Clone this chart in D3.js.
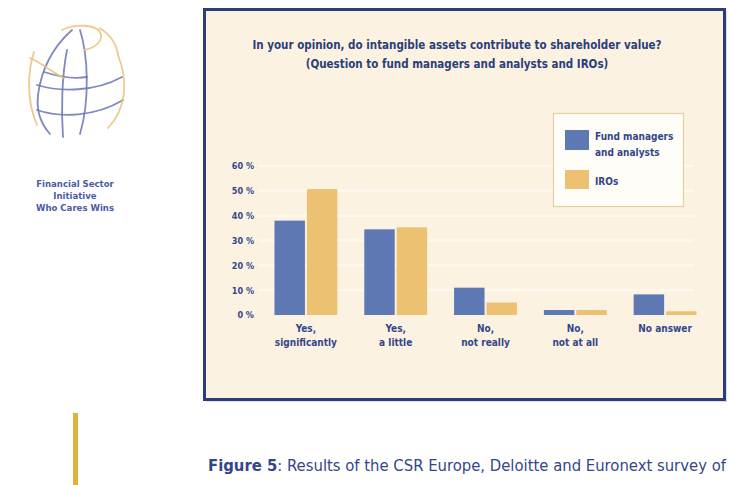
<!DOCTYPE html>
<html><head><meta charset="utf-8">
<script src="https://cdn.jsdelivr.net/npm/d3@7"></script>
<style>
html,body{margin:0;padding:0;background:#fff;}
svg{display:block;}
text{font-family:"Liberation Sans Narrow","DejaVu Sans Condensed","Arial Narrow",sans-serif;}
</style></head>
<body>
<svg id="c" width="732" height="485"></svg>
<script>
const categories = [["Yes,","significantly"],["Yes,","a little"],["No,","not really"],["No,","not at all"],["No answer"]];
const seriesNames = ["Fund managers and analysts","IROs"];
const fundManagers = [38, 34.5, 11, 2, 8.3];
const iros = [50.7, 35.3, 5, 2, 1.5];
const yTicks = [0,10,20,30,40,50,60];
const titleLines = ["In your opinion, do intangible assets contribute to shareholder value?","(Question to fund managers and analysts and IROs)"];
const logoLines = ["Financial Sector","Initiative","Who Cares Wins"];

const navy = "#2a3f78", blue = "#5d78b3", gold = "#ecc172", textBlue = "#33468a";
const svg = d3.select("#c");

// chart frame
svg.append("rect").attr("x",206).attr("y",11).attr("width",521).attr("height",391).attr("fill","#d9dde6");
svg.append("rect").attr("x",204.5).attr("y",9.5).attr("width",520).attr("height",390)
  .attr("fill","#fcf2e2").attr("stroke",navy).attr("stroke-width",3);

// title
svg.append("g").selectAll("text").data(titleLines).join("text")
  .attr("x",457).attr("y",(d,i)=>49+i*19).attr("text-anchor","middle")
  .attr("font-size",11.5).attr("font-weight","bold").attr("fill",navy).text(d=>d);

const keys = ["f","i"];
const data = categories.map((c,i)=>({c, key:c.join(" "), f:fundManagers[i], i:iros[i]}));
const x0 = d3.scaleBand().domain(data.map(d=>d.key)).range([261,710]).paddingInner(0.3).paddingOuter(0.15);
const x1 = d3.scaleBand().domain(keys).range([0,x0.bandwidth()]).paddingInner(0.06);
const y = d3.scaleLinear().domain([0,60]).range([315,166]);
const color = d3.scaleOrdinal().domain(keys).range([blue,gold]);

// gridlines
svg.append("g").selectAll("line").data(yTicks.filter(t=>t>0)).join("line")
  .attr("x1",258).attr("x2",694).attr("y1",d=>y(d)).attr("y2",d=>y(d))
  .attr("stroke","#fff8ee").attr("stroke-width",2.5);

// y axis
const yAxis = d3.axisLeft(y).tickValues(yTicks).tickFormat(d=>d+" %").tickSize(0).tickPadding(0);
const ga = svg.append("g").attr("transform","translate(254,0)").call(yAxis);
ga.select(".domain").remove();
ga.selectAll("text").attr("font-size",9).attr("font-weight","bold").attr("fill",textBlue)
  .attr("font-family",'"Liberation Sans Narrow","DejaVu Sans Condensed",sans-serif');

// bars
svg.append("g").selectAll("g").data(data).join("g")
  .attr("transform",d=>`translate(${x0(d.key)},0)`)
  .selectAll("rect").data(d=>keys.map(k=>({k,v:d[k]}))).join("rect")
  .attr("x",d=>x1(d.k)).attr("width",x1.bandwidth())
  .attr("y",d=>y(d.v)).attr("height",d=>y(0)-y(d.v)).attr("fill",d=>color(d.k));

// x axis labels
const xAxis = d3.axisBottom(x0).tickSize(0).tickFormat("");
const gx = svg.append("g").attr("transform","translate(0,315)").call(xAxis);
gx.select(".domain").remove();
gx.selectAll(".tick").each(function(k){
  const d = data.find(e=>e.key===k);
  const t = d3.select(this).append("text").attr("text-anchor","middle")
    .attr("font-size",10).attr("font-weight","bold").attr("fill",textBlue);
  d.c.forEach((ln,i)=>t.append("tspan").attr("x",0).attr("y",17+i*14).text(ln));
});

// legend
const lg = svg.append("g");
lg.append("rect").attr("x",553.5).attr("y",113.5).attr("width",130).attr("height",93)
  .attr("fill","#fffdf8").attr("stroke","#e6cf9c").attr("stroke-width",1.2);
lg.append("rect").attr("x",565).attr("y",130).attr("width",24).attr("height",20).attr("fill",blue);
lg.append("rect").attr("x",565).attr("y",170).attr("width",24).attr("height",19).attr("fill",gold);
const lt = lg.append("text").attr("font-size",10).attr("font-weight","bold").attr("fill",textBlue);
lt.append("tspan").attr("x",595).attr("y",140).text("Fund managers");
lt.append("tspan").attr("x",595).attr("y",156).text("and analysts");
lg.append("text").attr("x",595).attr("y",185).attr("font-size",10).attr("font-weight","bold").attr("fill",textBlue).text(seriesNames[1]);

// logo globe
const logo = svg.append("g").attr("fill","none").attr("stroke-linecap","round");
const bluePaths = [
  "M72,30 C55,45 42,65 38,95 C36,112 41,124 50,134",
  "M67,50 C62,75 61,110 63,137",
  "M80,30 C88,55 90,100 80,134",
  "M37,85 C60,92 95,92 122,77",
  "M37,110 C60,118 95,117 123,100",
  "M44,72 C60,77 75,79 87,77"
];
const goldPaths = [
  "M62,30 C75,24 95,24 100,32 C104,40 96,48 84,50",
  "M34,52 C28,70 26,100 37,125",
  "M30,58 C40,62 52,72 64,78",
  "M118,55 C128,80 127,108 108,128",
  "M100,28 C110,35 117,45 118,55"
];
logo.selectAll("path.b").data(bluePaths).join("path").attr("class","b").attr("d",d=>d)
  .attr("stroke","#6b74b6").attr("stroke-width",1.8).attr("opacity",0.85);
logo.selectAll("path.g").data(goldPaths).join("path").attr("class","g").attr("d",d=>d)
  .attr("stroke","#e9c27a").attr("stroke-width",1.8).attr("opacity",0.85);

svg.append("g").selectAll("text").data(logoLines).join("text")
  .attr("x",75).attr("y",(d,i)=>187+i*12).attr("text-anchor","middle")
  .attr("font-size",9.5).attr("fill","#4a5ca6").attr("font-weight","bold").text(d=>d);

// gold vertical bar
svg.append("rect").attr("x",73).attr("y",413).attr("width",5).attr("height",72).attr("fill","#e0b040");

// caption, sized to span the chart frame width
const cap = svg.append("text").attr("x",208).attr("y",471).attr("font-size",13.5).attr("fill","#34468a");
cap.append("tspan").attr("font-weight","bold").text("Figure 5");
cap.append("tspan").text(": Results of the CSR Europe, Deloitte and Euronext survey of");
const w = cap.node().getComputedTextLength();
cap.attr("font-size", 13.5 * 518 / w);
</script>
</body></html>
